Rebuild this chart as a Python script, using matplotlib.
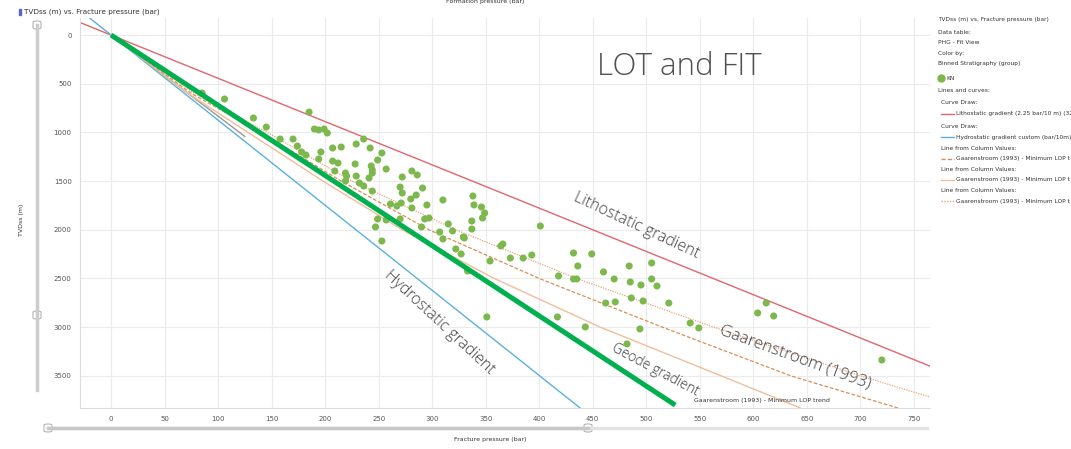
import matplotlib
matplotlib.use("Agg")
import matplotlib.pyplot as plt
from matplotlib.lines import Line2D
from matplotlib.patches import FancyBboxPatch

W, H = 1071, 449

# scatter: fracture pressure (bar) and TVDss (m), group KN
kn_pressure = [85, 106, 133, 145, 158, 170, 174, 178, 182, 185, 190, 194, 199, 202, 196, 194,
               207, 215, 207, 212, 209, 219, 220, 219, 229, 236, 242, 228, 229, 232, 236, 243,
               244, 244, 249, 253, 241, 244, 257, 272, 281, 286, 270, 272, 291, 280, 285, 261,
               267, 271, 281, 295, 310, 338, 339, 346, 349, 347, 337, 337, 293, 297, 315, 319,
               307, 310, 329, 330, 322, 327, 333, 249, 247, 257, 253, 270, 290, 354, 364, 366,
               373, 385, 393, 401, 418, 432, 449, 436, 432, 435, 460, 484, 505, 470, 485, 495,
               505, 510, 486, 497, 462, 471, 521, 541, 549, 443, 494, 351, 417, 482, 604, 612,
               619, 720]
kn_depth = [595, 657, 852, 945, 1068, 1068, 1140, 1201, 1232, 791, 965, 975, 965, 1006, 1201, 1273,
            1160, 1150, 1294, 1314, 1396, 1417, 1448, 1499, 1119, 1068, 1160, 1324, 1448, 1520, 1550, 1345,
            1386, 1417, 1283, 1211, 1468, 1602, 1376, 1458, 1396, 1437, 1561, 1622, 1571, 1684, 1643, 1735,
            1756, 1725, 1776, 1745, 1694, 1653, 1745, 1766, 1828, 1879, 1910, 1992, 1889, 1879, 1940, 2012,
            2023, 2094, 2074, 2084, 2197, 2248, 2423, 1889, 1971, 1899, 2115, 1889, 1971, 2320, 2166, 2146,
            2290, 2290, 2259, 1961, 2474, 2238, 2248, 2372, 2505, 2505, 2433, 2372, 2341, 2505, 2536, 2567,
            2505, 2577, 2700, 2731, 2752, 2741, 2752, 2957, 3008, 2998, 3018, 2895, 2895, 3172, 2854, 2752,
            2885, 3337]

# straight gradients (bar per m)
litho_grad = 0.225
hydro_grad = 0.1144
geode_grad = 0.1387
grey_grad = 0.12

# Gaarenstroom (1993) minimum LOP trend curves
gaar_depth = [0, 600, 1000, 1500, 2000, 2500, 3000, 3500, 3830]
gaar_dashed = [0, 75, 140, 215, 297, 400, 515, 635, 735]
gaar_solid = [0, 72, 128, 198, 272, 358, 457, 570, 644]
gaar_dotted_depth = [0, 600, 1000, 1500, 2000, 2500, 3000, 3500, 3717]
gaar_dotted = [0, 78, 146, 225, 322, 435, 563, 700, 765]

xlim = (-29, 765)
ylim = (3830, -175)

fig = plt.figure(figsize=(W / 100, H / 100), dpi=100)


def fx(px):
    return px / W


def fy(py):
    return 1 - py / H


ax = fig.add_axes([fx(80), fy(408), fx(930) - fx(80), fy(18) - fy(408)])
ax.set_xlim(xlim)
ax.set_ylim(ylim)
ax.set_xticks(range(0, 751, 50))
ax.set_yticks(range(0, 3501, 500))
ax.grid(True, color="#ebebeb", lw=0.8)
ax.set_axisbelow(True)
for s in ["top", "right"]:
    ax.spines[s].set_visible(False)
for s in ["left", "bottom"]:
    ax.spines[s].set_color("#dddddd")
    ax.spines[s].set_linewidth(0.8)
ax.tick_params(length=0, labelsize=5, labelcolor="#555555", pad=6)

# lines
ax.plot([xlim[0], xlim[1]], [xlim[0] / litho_grad, xlim[1] / litho_grad], color="#e0666e", lw=1)
ax.plot([-20, 3830 * hydro_grad], [-20 / hydro_grad, 3830], color="#5ab0df", lw=1)
ax.plot([0, 125], [0, 125 / grey_grad], color="#999999", lw=1)
ax.plot(gaar_solid, gaar_depth, color="#f2bd98", lw=1)
ax.plot(gaar_dashed, gaar_depth, color="#dc8e55", lw=0.9, ls=(0, (3, 1.5)))
ax.plot(gaar_dotted, gaar_dotted_depth, color="#eaa57a", lw=0.9, ls=(0, (1, 1)))

ax.scatter(kn_pressure, kn_depth, s=26, color="#7cb84c", edgecolors="none", zorder=5)

ax.plot([0, 3800 * geode_grad], [0, 3800], color="#00b04f", lw=3.6, zorder=6, solid_capstyle="butt")

# annotations
ann = dict(family="Open Sans", fontweight="light", color="#404040", ha="center", va="center",
           rotation_mode="anchor")
ax.text(491, 1961, "Lithostatic gradient", fontsize=11.5, rotation=-25, **ann)
ax.text(307, 2947, "Hydrostatic gradient", fontsize=11.5, rotation=-43, **ann)
ax.text(639, 3306, "Gaarenstroom (1993)", fontsize=12, rotation=-20, **ann)
ax.text(508, 3439, "Geode gradient", fontsize=10, rotation=-28, **ann)
ax.text(608, 3758, "Gaarenstroom (1993) - Minimum LOP trend", fontsize=4.5, color="#333333",
        ha="center", va="center")

fig.text(fx(597), fy(67), "LOT and FIT", fontsize=22.5, family="Open Sans", fontweight="light",
         color="#505050", va="center", ha="left")

# header and axis titles
fig.text(fx(24), fy(12), "TVDss (m) vs. Fracture pressure (bar)", fontsize=5.2, color="#333333",
         va="center")
fig.patches.append(plt.Rectangle((fx(19), fy(15)), fx(2), fy(9) - fy(15), color="#5566dd",
                                 transform=fig.transFigure))
fig.text(fx(485), fy(2), "Formation pressure (bar)", fontsize=4.5, color="#333333", ha="center",
         va="center")
fig.text(fx(22), fy(220), "TVDss (m)", fontsize=4.5, color="#333333", rotation=90, ha="center",
         va="center")
fig.text(fx(490), fy(440), "Fracture pressure (bar)", fontsize=4.5, color="#333333", ha="center",
         va="center")

# sliders
fig.add_artist(Line2D([fx(37), fx(37)], [fy(25), fy(390)], color="#cccccc", lw=2.5))
fig.add_artist(Line2D([fx(48), fx(927)], [fy(428), fy(428)], color="#e3e3e3", lw=2.5))
fig.add_artist(Line2D([fx(48), fx(588)], [fy(428), fy(428)], color="#c8c8c8", lw=2.5))
for (px, py) in [(37, 25), (37, 315), (48, 428), (588, 428)]:
    fig.patches.append(FancyBboxPatch((fx(px - 4), fy(py + 4)), fx(8), fy(0) - fy(8),
                                      boxstyle="round,pad=0,rounding_size=0.003",
                                      facecolor="white", edgecolor="#aaaaaa", lw=0.7,
                                      transform=fig.transFigure))

# legend panel (text truncated at the panel edge, as in the source)
lx = 938
leg = [
    (20, "TVDss (m) vs. Fracture pressure (bar)", 0),
    (32, "Data table:", 0),
    (42, "PHG - Fit View", 0),
    (54, "Color by:", 0),
    (64, "Binned Stratigraphy (group)", 0),
    (78, "KN", 8),
    (91, "Lines and curves:", 0),
    (103, "Curve Draw:", 3),
    (114, "Lithostatic gradient (2.25 bar/10 m) (32", 18),
    (126, "Curve Draw:", 3),
    (137, "Hydrostatic gradient custom (bar/10m)", 18),
    (149, "Line from Column Values:", 3),
    (159, "Gaarenstroom (1993) - Minimum LOP t", 18),
    (170, "Line from Column Values:", 3),
    (180, "Gaarenstroom (1993) - Minimum LOP t", 18),
    (191, "Line from Column Values:", 3),
    (201, "Gaarenstroom (1993) - Minimum LOP t", 18),
]
for (py, txt, off) in leg:
    fig.text(fx(lx + off), fy(py), txt, fontsize=4.2, color="#333333", va="center")

fig.add_artist(Line2D([fx(lx + 3)], [fy(78)], marker="o", ms=5, color="#7cb84c", lw=0))
legend_lines = [(114, "#e0666e", "-"), (137, "#5ab0df", "-"), (159, "#dc8e55", (0, (3, 1.5))),
                (180, "#f2bd98", "-"), (201, "#eaa57a", (0, (1, 1)))]
for (py, c, ls) in legend_lines:
    fig.add_artist(Line2D([fx(lx + 3), fx(lx + 16)], [fy(py), fy(py)], color=c, lw=1, ls=ls))

fig.savefig("out.png", dpi=100)
